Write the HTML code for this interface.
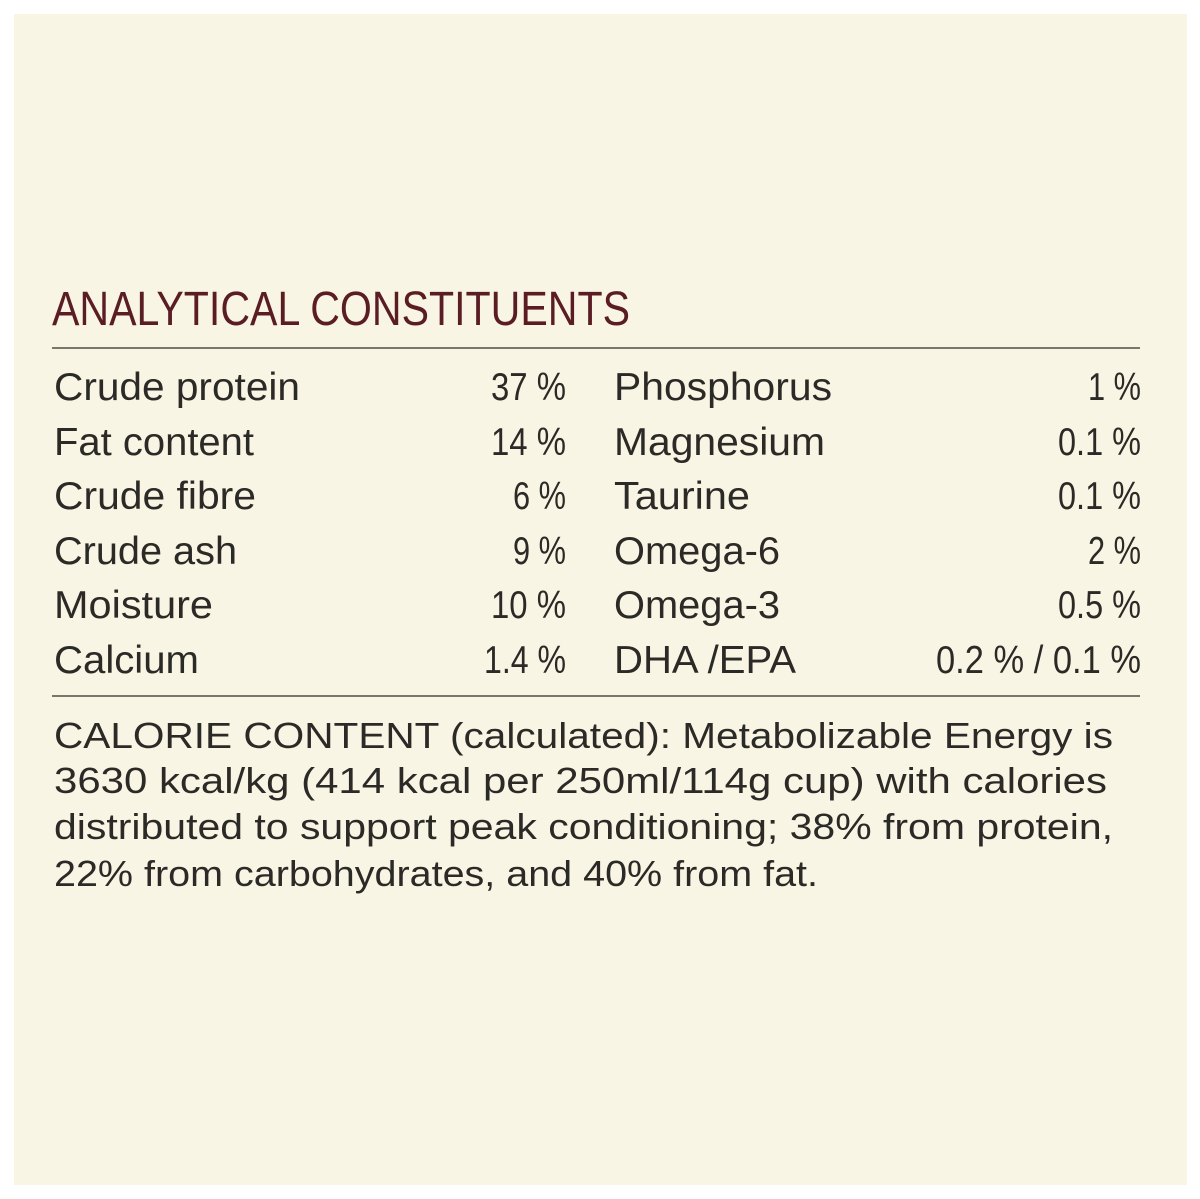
<!DOCTYPE html>
<html><head><style>html,body{margin:0;padding:0;background:#fff}svg{display:block}</style></head>
<body>
<svg width="1200" height="1199" viewBox="0 0 1200 1199" xmlns="http://www.w3.org/2000/svg" font-family="'Liberation Sans', sans-serif">
<rect x="14" y="14" width="1173" height="1171" fill="#f9f5e4"/>
<text x="52" y="325" font-size="48" fill="#5a1d24" textLength="578" lengthAdjust="spacingAndGlyphs">ANALYTICAL CONSTITUENTS</text>
<line x1="52" y1="348" x2="1140" y2="348" stroke="#77776c" stroke-width="2"/>
<g font-size="39" fill="#2b2a26">
<text x="54" y="400" textLength="246" lengthAdjust="spacingAndGlyphs">Crude protein</text>
<text x="54" y="455" textLength="200" lengthAdjust="spacingAndGlyphs">Fat content</text>
<text x="54" y="509" textLength="202" lengthAdjust="spacingAndGlyphs">Crude fibre</text>
<text x="54" y="564" textLength="183" lengthAdjust="spacingAndGlyphs">Crude ash</text>
<text x="54" y="618" textLength="159" lengthAdjust="spacingAndGlyphs">Moisture</text>
<text x="54" y="673" textLength="145" lengthAdjust="spacingAndGlyphs">Calcium</text>
<g text-anchor="end">
<text x="566" y="400" textLength="75" lengthAdjust="spacingAndGlyphs">37 %</text>
<text x="566" y="455" textLength="75" lengthAdjust="spacingAndGlyphs">14 %</text>
<text x="566" y="509" textLength="53" lengthAdjust="spacingAndGlyphs">6 %</text>
<text x="566" y="564" textLength="53" lengthAdjust="spacingAndGlyphs">9 %</text>
<text x="566" y="618" textLength="75" lengthAdjust="spacingAndGlyphs">10 %</text>
<text x="566" y="673" textLength="82" lengthAdjust="spacingAndGlyphs">1.4 %</text>
<text x="1141" y="400" textLength="53" lengthAdjust="spacingAndGlyphs">1 %</text>
<text x="1141" y="455" textLength="83" lengthAdjust="spacingAndGlyphs">0.1 %</text>
<text x="1141" y="509" textLength="83" lengthAdjust="spacingAndGlyphs">0.1 %</text>
<text x="1141" y="564" textLength="53" lengthAdjust="spacingAndGlyphs">2 %</text>
<text x="1141" y="618" textLength="83" lengthAdjust="spacingAndGlyphs">0.5 %</text>
<text x="1141" y="673" textLength="205" lengthAdjust="spacingAndGlyphs">0.2 % / 0.1 %</text>
</g>
<text x="614" y="400" textLength="218" lengthAdjust="spacingAndGlyphs">Phosphorus</text>
<text x="614" y="455" textLength="211" lengthAdjust="spacingAndGlyphs">Magnesium</text>
<text x="614" y="509" textLength="136" lengthAdjust="spacingAndGlyphs">Taurine</text>
<text x="614" y="564" textLength="166" lengthAdjust="spacingAndGlyphs">Omega-6</text>
<text x="614" y="618" textLength="166" lengthAdjust="spacingAndGlyphs">Omega-3</text>
<text x="614" y="673" textLength="182" lengthAdjust="spacingAndGlyphs">DHA /EPA</text>
</g>
<line x1="52" y1="696" x2="1140" y2="696" stroke="#77776c" stroke-width="2"/>
<g font-size="36" fill="#2b2a26">
<text x="54" y="748" textLength="1059" lengthAdjust="spacingAndGlyphs">CALORIE CONTENT (calculated): Metabolizable Energy is</text>
<text x="54" y="793" textLength="1053" lengthAdjust="spacingAndGlyphs">3630 kcal/kg (414 kcal per 250ml/114g cup) with calories</text>
<text x="54" y="839" textLength="1059" lengthAdjust="spacingAndGlyphs">distributed to support peak conditioning; 38% from protein,</text>
<text x="54" y="886" textLength="764" lengthAdjust="spacingAndGlyphs">22% from carbohydrates, and 40% from fat.</text>
</g>
</svg>
</body></html>
